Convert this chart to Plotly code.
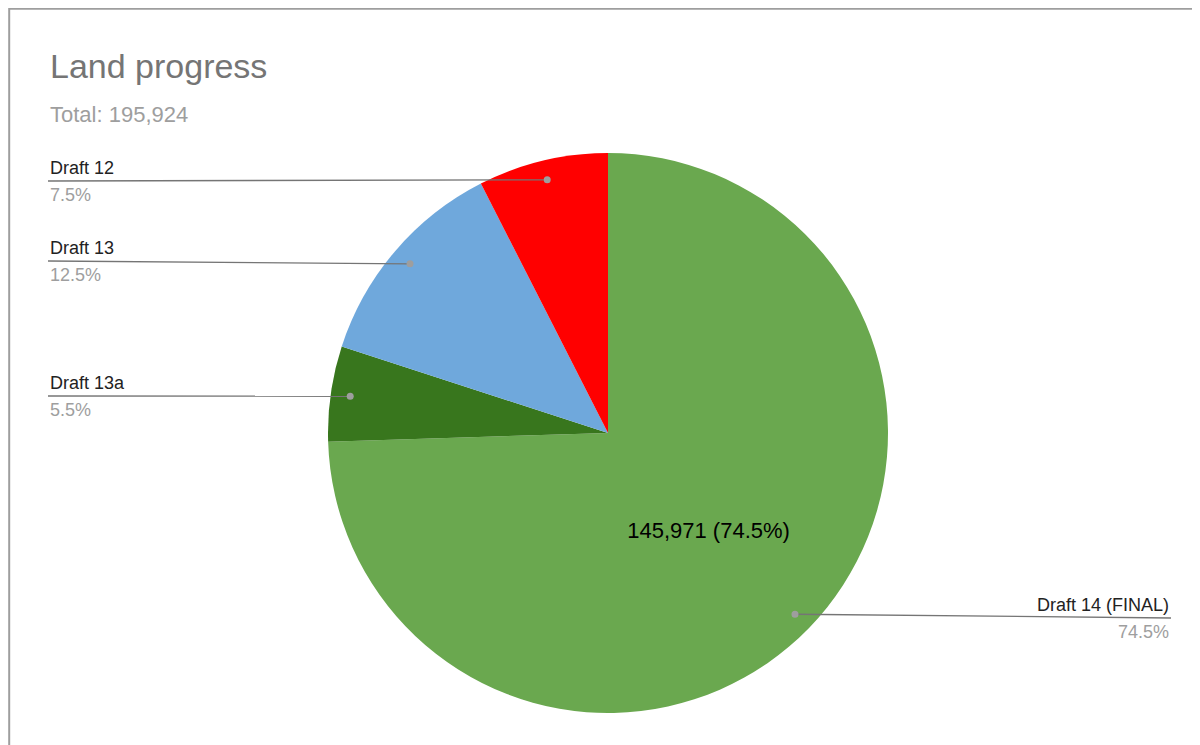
import math
import plotly.graph_objects as go

labels = ["Draft 14 (FINAL)", "Draft 13a", "Draft 13", "Draft 12"]
values = [145971, 10776, 24483, 14694]
colors = ["#6aa84f", "#38761d", "#6fa8dc", "#ff0000"]
total = sum(values)

W, H = 1200, 745
cx, cy, R = 600, 425, 280

fig = go.Figure(go.Pie(
    labels=labels, values=values, sort=False, direction="clockwise", rotation=0,
    marker=dict(colors=colors, line=dict(width=0)),
    texttemplate=["%{value:,} (%{percent:.1%})", "", "", ""],
    textposition="inside", insidetextfont=dict(color="black", size=22),
    showlegend=False, hoverinfo="label+value+percent",
    domain=dict(x=[(cx - R) / W, (cx + R) / W], y=[1 - (cy + R) / H, 1 - (cy - R) / H]),
))

# label placement (pixels): (x, y of name, anchor side)
label_pos = {
    "Draft 12": (40, 160, "left"),
    "Draft 13": (40, 240, "left"),
    "Draft 13a": (40, 375, "left"),
    "Draft 14 (FINAL)": (1163, 597, "right"),
}

shapes, annos = [], []
cum = 0
for lab, v in zip(labels, values):
    frac = v / total
    mid = (cum + frac / 2) * 2 * math.pi
    cum += frac
    px = cx + 0.93 * R * math.sin(mid)
    py = cy - 0.93 * R * math.cos(mid)
    lx, ly, side = label_pos[lab]
    ly_line = ly + 13
    shapes.append(dict(type="line", xref="paper", yref="paper",
                       x0=lx / W, x1=px / W, y0=1 - ly_line / H, y1=1 - py / H,
                       line=dict(color="#757575", width=1.3)))
    shapes.append(dict(type="circle", xref="paper", yref="paper",
                       x0=(px - 3.5) / W, x1=(px + 3.5) / W, y0=1 - (py + 3.5) / H, y1=1 - (py - 3.5) / H,
                       fillcolor="#9e9e9e", line=dict(width=0)))
    annos.append(dict(x=lx / W, y=1 - ly / H, xref="paper", yref="paper", text=lab,
                      showarrow=False, xanchor=side, yanchor="middle",
                      font=dict(size=18, color="#222222")))
    annos.append(dict(x=lx / W, y=1 - (ly + 27) / H, xref="paper", yref="paper",
                      text=f"{frac * 100:.1f}%", showarrow=False, xanchor=side, yanchor="middle",
                      font=dict(size=18, color="#9e9e9e")))

annos.append(dict(x=40 / W, y=1 - 58 / H, xref="paper", yref="paper", text="Land progress",
                  showarrow=False, xanchor="left", yanchor="middle",
                  font=dict(size=34, color="#757575")))
annos.append(dict(x=40 / W, y=1 - 107 / H, xref="paper", yref="paper", text=f"Total: {total:,}",
                  showarrow=False, xanchor="left", yanchor="middle",
                  font=dict(size=22, color="#9e9e9e")))
shapes.append(dict(type="rect", xref="paper", yref="paper", x0=0.001, x1=0.999, y0=0.001, y1=0.999,
                   line=dict(color="#9e9e9e", width=2)))

fig.update_layout(width=W, height=H, margin=dict(l=0, r=0, t=0, b=0),
                  paper_bgcolor="white", plot_bgcolor="white",
                  font=dict(family="Liberation Sans, Arial"),
                  shapes=shapes, annotations=annos)
fig.write_html("out.html")
